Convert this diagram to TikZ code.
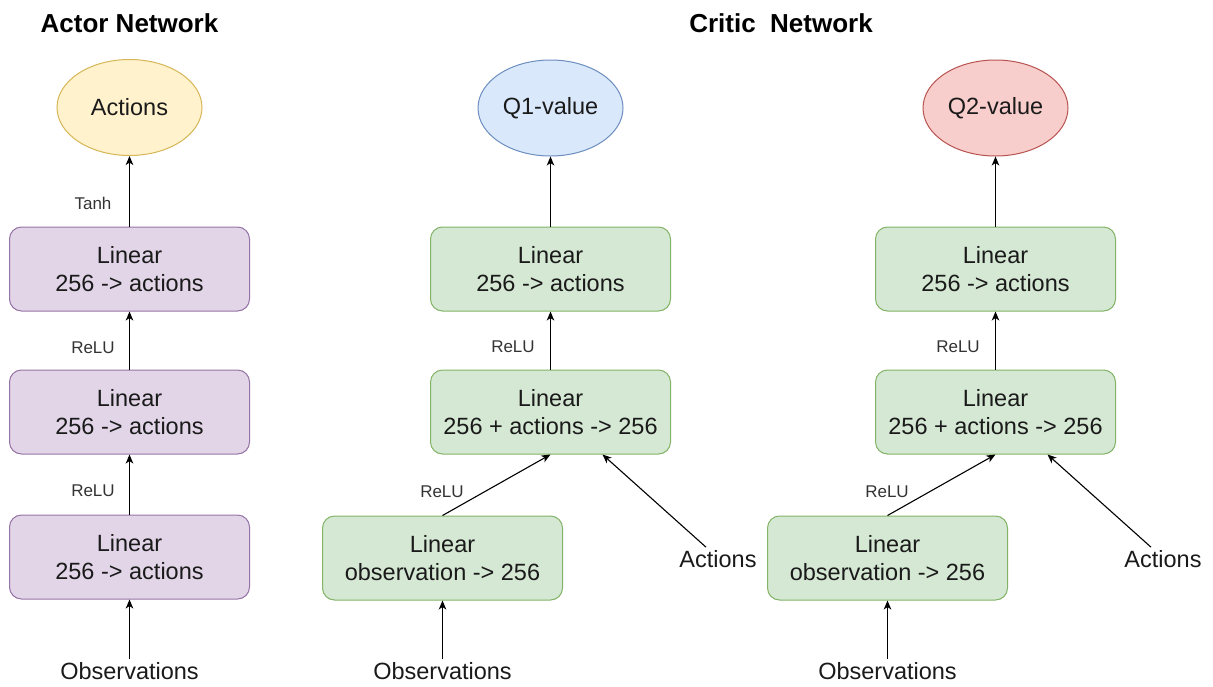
\documentclass[tikz,border=0pt]{standalone}
\usepackage{fontspec}
\setmainfont{Liberation Sans}
\usetikzlibrary{arrows.meta,calc,shapes.geometric}

\definecolor{actfill}{HTML}{FFF2CC}\definecolor{actline}{HTML}{D6B656}
\definecolor{q1fill}{HTML}{DAE8FC}\definecolor{q1line}{HTML}{6C8EBF}
\definecolor{q2fill}{HTML}{F8CECC}\definecolor{q2line}{HTML}{B85450}
\definecolor{pfill}{HTML}{E1D5E7}\definecolor{pline}{HTML}{9673A6}
\definecolor{gfill}{HTML}{D5E8D4}\definecolor{gline}{HTML}{82B366}
\definecolor{ink}{HTML}{1A1A1A}
\definecolor{softink}{HTML}{333333}

\newcommand\bodyfs{\fontsize{23.5}{28}\selectfont}
\newcommand\labelfs{\fontsize{17}{20}\selectfont}
\newcommand\titlefs{\fontsize{26}{30}\selectfont\bfseries}

\begin{document}
\begin{tikzpicture}[x=1pt,y=-1pt,
  layer/.style={draw, rounded corners=12pt, minimum width=240pt, minimum height=84pt,
    inner sep=0pt, align=center, font=\bodyfs, text=ink, line width=1pt},
  actorlayer/.style={layer, fill=pfill, draw=pline},
  criticlayer/.style={layer, fill=gfill, draw=gline},
  outnode/.style={ellipse, draw, minimum width=145pt, minimum height=96pt,
    inner sep=0pt, font=\bodyfs, text=ink, line width=1pt},
  txt/.style={font=\bodyfs, text=ink, inner sep=3pt},
  lbl/.style={font=\labelfs, text=softink, inner sep=0pt},
  heading/.style={font=\titlefs, text=black, inner sep=0pt},
  arr/.style={-{Stealth[length=9pt,width=7.5pt,inset=2.5pt]}, line width=1.1pt, draw=black}]
\useasboundingbox (0,0) rectangle (1213,686);

% ---------------- Actor network ----------------
\node[heading] (tA) at (129.5,23) {Actor Network};
\node[outnode, fill=actfill, draw=actline] (outA) at (129.5,107.5) {Actions};
\node[actorlayer] (a1) at (129.5,269) {Linear\\256 -> actions};
\node[actorlayer] (a2) at (129.5,412) {Linear\\256 -> actions};
\node[actorlayer] (a3) at (129.5,557) {Linear\\256 -> actions};
\node[txt] (obsA) at (129.5,671) {Observations};

\draw[arr] (a1.north) -- (outA.south);
\draw[arr] (a2.north) -- (a1.south);
\draw[arr] (a3.north) -- (a2.south);
\draw[arr] (obsA.north) -- (a3.south);

\node[lbl] (tanhA) at (93,203) {Tanh};
\node[lbl] (reluA1) at (93,348) {ReLU};
\node[lbl] (reluA2) at (93,491) {ReLU};

% ---------------- Critic networks ----------------
\node[heading] (tC) at (781,23) {Critic~~Network};

% first critic
\node[outnode, fill=q1fill, draw=q1line] (outC1) at (550.5,108) {Q1-value};
\node[criticlayer] (c1top) at (550.5,269) {Linear\\256 -> actions};
\node[criticlayer] (c1mid) at (550.5,412) {Linear\\256 + actions -> 256};
\node[criticlayer] (c1obs) at (442.5,558) {Linear\\observation -> 256};
\node[txt] (obsC1) at (442.5,671) {Observations};
\node[txt] (actC1) at (718,559) {Actions};

\draw[arr] (c1top.north) -- (outC1.south);
\draw[arr] (c1mid.north) -- (c1top.south);
\draw[arr] (c1obs.north) -- (c1mid.south);
\draw[arr] (obsC1.north) -- (c1obs.south);
\draw[arr] ($(actC1.north)+(-12,0)$) -- ($(c1mid.south)+(52,0)$);

\node[lbl] (reluC1a) at (513,347) {ReLU};
\node[lbl] (reluC1b) at (442,492) {ReLU};

% second critic
\node[outnode, fill=q2fill, draw=q2line] (outC2) at (995.5,108) {Q2-value};
\node[criticlayer] (c2top) at (995.5,269) {Linear\\256 -> actions};
\node[criticlayer] (c2mid) at (995.5,412) {Linear\\256 + actions -> 256};
\node[criticlayer] (c2obs) at (887.5,558) {Linear\\observation -> 256};
\node[txt] (obsC2) at (887.5,671) {Observations};
\node[txt] (actC2) at (1163,559) {Actions};

\draw[arr] (c2top.north) -- (outC2.south);
\draw[arr] (c2mid.north) -- (c2top.south);
\draw[arr] (c2obs.north) -- (c2mid.south);
\draw[arr] (obsC2.north) -- (c2obs.south);
\draw[arr] ($(actC2.north)+(-12,0)$) -- ($(c2mid.south)+(52,0)$);

\node[lbl] (reluC2a) at (958,347) {ReLU};
\node[lbl] (reluC2b) at (887,492) {ReLU};
\end{tikzpicture}
\end{document}
